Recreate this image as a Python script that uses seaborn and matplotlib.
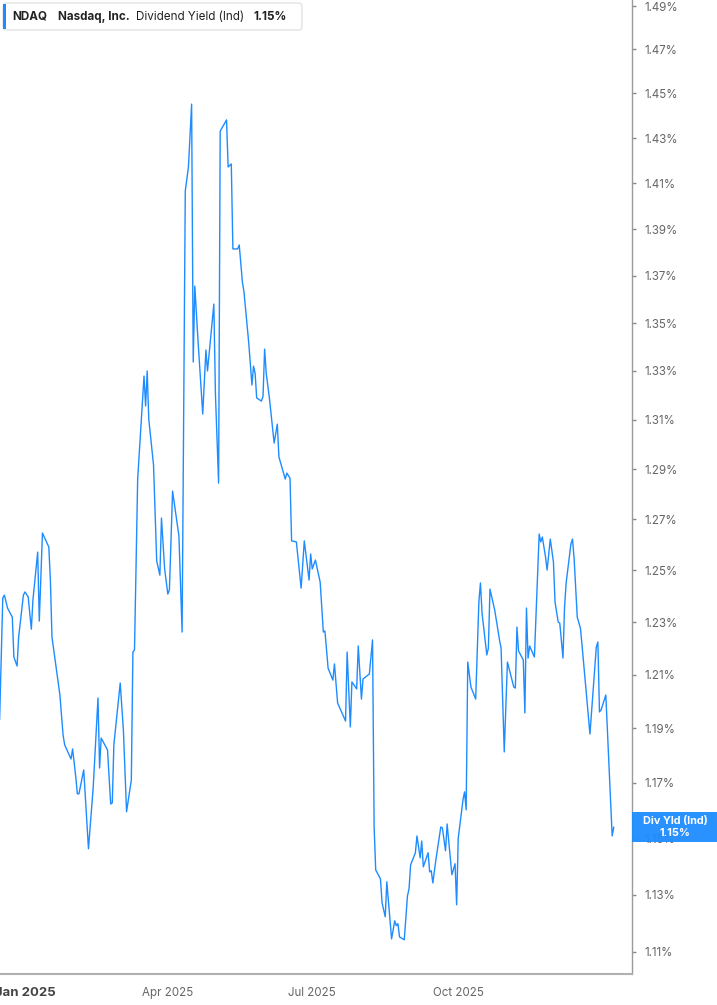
import matplotlib
matplotlib.use("Agg")
import matplotlib.pyplot as plt
import matplotlib.ticker as mticker
from matplotlib.patches import FancyBboxPatch, Rectangle
import pandas as pd
import seaborn as sns

sns.set_theme(style="white")
plt.rcParams["font.family"] = ["Inter", "DejaVu Sans"]

# ---------------------------------------------------------------
# data: NDAQ indicated dividend yield (%), days counted from 2025-01-01
# ---------------------------------------------------------------
start = pd.Timestamp("2025-01-01")

day_offsets = [
    -16, -14, -13, -11, -8, -7, -5, -4, -1, 0,
    2, 4, 5, 8, 9, 11, 15, 16, 17, 19,
    22, 24, 25, 29, 30, 32, 33, 34, 37, 40,
    43, 46, 47, 48, 52, 54, 55, 56, 60, 62,
    64, 67, 68, 69,
    71, 75, 76, 77, 78, 81, 83, 85, 86, 88,
    90, 91, 93, 97, 99, 101, 103, 105, 106, 107,
    109, 112, 114, 115, 119, 120, 122, 123, 127, 128,
    130,
    131, 134, 135, 137, 138, 141, 143, 144, 145, 146,
    149, 150, 151, 152, 154, 157, 159, 160, 164, 165,
    167, 168, 171, 174, 176, 179, 180, 181, 183, 186,
    188, 189, 191, 194, 195, 197, 202, 203, 205, 206,
    209, 210, 212, 213, 217, 219,
    220, 221, 224, 225, 227, 228, 231, 233, 234, 235,
    236, 239, 241, 242, 243, 246, 247, 249, 250, 251,
    254, 255, 256, 257, 259, 262, 263, 265, 266, 269,
    271, 272, 273, 276, 277, 278, 279, 281, 284,
    286, 287, 288, 291, 292, 293, 296, 299, 300, 302,
    304, 308, 309, 310, 311, 314, 315, 316, 317, 318,
    321, 324, 325, 326, 328, 329, 331, 333, 334, 336,
    337, 339, 340, 341, 344, 345, 346, 348, 350, 351,
    356, 360, 361, 362, 363, 366, 370, 371,
]

yield_pct = [
    1.1931, 1.2393, 1.2404, 1.2354, 1.2319, 1.2167, 1.2133, 1.2243, 1.2404, 1.2416,
    1.2397, 1.2273, 1.2385, 1.2571, 1.2304, 1.2646, 1.2591, 1.2462, 1.2243, 1.2156,
    1.2024, 1.1875, 1.1839, 1.1787, 1.1824, 1.1721, 1.1660, 1.1660, 1.1747, 1.1462,
    1.1685, 1.2013, 1.1754, 1.1864, 1.1820, 1.1623, 1.1627, 1.1839, 1.2069, 1.1894,
    1.1595, 1.1710, 1.2186, 1.2194,
    1.2860, 1.3279, 1.3156, 1.3300, 1.3102, 1.2916, 1.2536, 1.2481, 1.2705, 1.2505,
    1.2408, 1.2424, 1.2812, 1.2634, 1.2262, 1.4066, 1.4172, 1.4452, 1.3337, 1.3656,
    1.3429, 1.3123, 1.3387, 1.3300, 1.3580, 1.3205, 1.2844, 1.4331, 1.4381, 1.4172,
    1.4185,
    1.3815, 1.3815, 1.3832, 1.3673, 1.3631, 1.3416, 1.3242, 1.3320, 1.3291, 1.3189,
    1.3176, 1.3197, 1.3391, 1.3291, 1.3189, 1.3005, 1.3082, 1.2949, 1.2860, 1.2884,
    1.2864, 1.2615, 1.2611, 1.2431, 1.2615, 1.2462, 1.2564, 1.2505, 1.2540, 1.2454,
    1.2262, 1.2266, 1.2125, 1.2080, 1.2141, 1.1994, 1.1927, 1.2186, 1.1905, 1.2073,
    1.2047, 1.2209, 1.2009, 1.2084, 1.2103, 1.2232,
    1.1540, 1.1387, 1.1355, 1.1271, 1.1222, 1.1345, 1.1145, 1.1208, 1.1191, 1.1198,
    1.1152, 1.1142, 1.1295, 1.1320, 1.1405, 1.1448, 1.1508, 1.1430, 1.1490, 1.1398,
    1.1448, 1.1380, 1.1384, 1.1341, 1.1426, 1.1540, 1.1537, 1.1455, 1.1551, 1.1370,
    1.1409, 1.1264, 1.1500, 1.1638, 1.1667, 1.1602, 1.2148, 1.2054, 1.2009,
    1.2377, 1.2451, 1.2335, 1.2175, 1.2201, 1.2427, 1.2346, 1.2232, 1.2201, 1.1813,
    1.2148, 1.2054, 1.2050, 1.2281, 1.2190, 1.2156, 1.1957, 1.2354, 1.2163, 1.2209,
    1.2167, 1.2642, 1.2611, 1.2630, 1.2552, 1.2501, 1.2622, 1.2532, 1.2377, 1.2300,
    1.2296, 1.2163, 1.2358, 1.2451, 1.2603, 1.2622, 1.2548, 1.2319, 1.2277, 1.2213,
    1.1879, 1.2205, 1.2224, 1.1961, 1.1968, 1.2024, 1.1508, 1.1540,
]

y_ticks = [1.11, 1.13, 1.15, 1.17, 1.19, 1.21, 1.23, 1.25, 1.27, 1.29,
           1.31, 1.33, 1.35, 1.37, 1.39, 1.41, 1.43, 1.45, 1.47, 1.49]
x_tick_dates = ["2025-01-01", "2025-04-01", "2025-07-01", "2025-10-01"]
x_tick_labels = ["Jan 2025", "Apr 2025", "Jul 2025", "Oct 2025"]

ticker_name = "NDAQ"
company = "Nasdaq, Inc."
metric = "Dividend Yield (Ind)"
last_label = "1.15%"

df = pd.DataFrame({
    "date": start + pd.to_timedelta(day_offsets, unit="D"),
    "yield": yield_pct,
})

# ---------------------------------------------------------------
# figure
# ---------------------------------------------------------------
W, H = 717, 1005
BLUE = "#1E8CFF"
fig = plt.figure(figsize=(W / 100, H / 100), dpi=100)
ax = fig.add_axes([0, 1 - 974 / H, 632 / W, 974 / H])

sns.lineplot(data=df, x="date", y="yield", ax=ax, color=BLUE, linewidth=1.0)

ax.set_yscale("log")
ax.set_ylim(1.1024, 1.4928)
ax.set_xlim(start - pd.Timedelta(days=15.75), start + pd.Timedelta(days=382.5))

# y axis on the right
ax.yaxis.tick_right()
ax.yaxis.set_major_locator(mticker.FixedLocator(y_ticks))
ax.yaxis.set_minor_locator(mticker.NullLocator())
ax.yaxis.set_major_formatter(mticker.FuncFormatter(lambda v, _: f"{v:.2f}%"))
ax.tick_params(axis="y", which="major", direction="out", length=3, width=1,
               color="#8a8a8a", labelsize=8.3, labelcolor="#666666", pad=6,
               left=False, right=True, labelleft=False, labelright=True)

# x axis
ax.set_xticks(pd.to_datetime(x_tick_dates))
ax.set_xticklabels(x_tick_labels)
ax.tick_params(axis="x", direction="out", length=4, width=1, color="#9a9a9a",
               labelsize=8.3, labelcolor="#666666", pad=5)
first = ax.get_xticklabels()[0]
first.set_fontweight("bold")
first.set_color("#444444")
first.set_fontsize(9.5)

ax.set_xlabel("")
ax.set_ylabel("")
ax.grid(False)
for side in ["top", "left"]:
    ax.spines[side].set_visible(False)
ax.spines["right"].set_color("#9a9a9a")
ax.spines["right"].set_linewidth(1.0)
ax.spines["bottom"].set_color("#b0b0b0")
ax.spines["bottom"].set_linewidth(1.5)


def fx(px):
    return px / W


def fy(py):
    return 1 - py / H


# legend header box
fig.add_artist(FancyBboxPatch((fx(3), fy(30)), fx(299), 27 / H,
                              boxstyle="round,pad=0,rounding_size=0.004",
                              transform=fig.transFigure, facecolor="white",
                              edgecolor="#e3e3e3", linewidth=1.0, zorder=5))
fig.add_artist(Rectangle((fx(3), fy(29)), fx(3), 25 / H, transform=fig.transFigure,
                         facecolor=BLUE, edgecolor="none", zorder=6))
head_kw = dict(va="center", ha="left", fontsize=8.4, color="#222222", zorder=7)
fig.text(fx(12), fy(17), ticker_name, fontweight="bold", **head_kw)
fig.text(fx(58), fy(17), company, fontweight="bold", **head_kw)
fig.text(fx(136), fy(17), metric, **head_kw)
fig.text(fx(253), fy(17), last_label, fontweight="bold", **head_kw)

# last value tag on the right axis
fig.add_artist(Rectangle((fx(632), fy(842)), fx(85), 30 / H, transform=fig.transFigure,
                         facecolor=BLUE, edgecolor="none", alpha=0.95, zorder=8))
fig.text(fx(675), fy(821), "Div Yld (Ind)", ha="center", va="center",
         fontsize=7.8, fontweight="bold", color="white", zorder=9)
fig.text(fx(675), fy(833), last_label, ha="center", va="center",
         fontsize=7.8, fontweight="bold", color="white", zorder=9)

fig.savefig("out.png", dpi=100)
